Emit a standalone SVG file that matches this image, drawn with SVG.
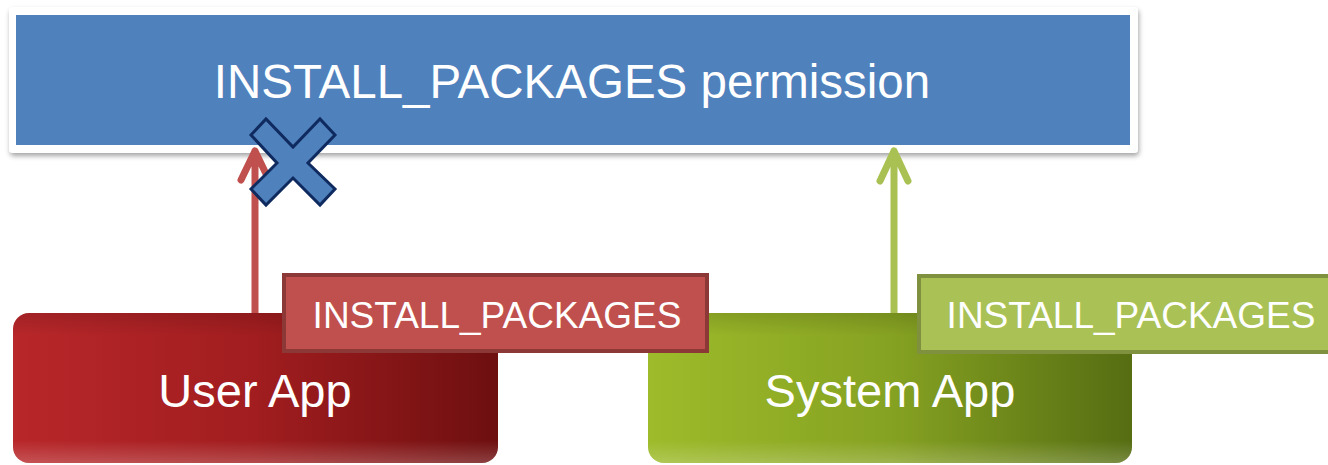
<svg xmlns="http://www.w3.org/2000/svg" width="1328" height="465" viewBox="0 0 1328 465">
<defs>
<style>
.t{font-family:"Liberation Sans",Arial,sans-serif;fill:#fff;text-anchor:middle}
.arr{fill:none;stroke-width:7;stroke-linecap:round;stroke-linejoin:round}
</style>
<filter id="sh" x="-5%" y="-10%" width="110%" height="130%">
<feDropShadow dx="1" dy="3" stdDeviation="2.5" flood-color="#000" flood-opacity="0.35"/>
</filter>
<linearGradient id="gRed" x1="0" y1="0" x2="1" y2="0">
<stop offset="0" stop-color="#b8272a"/>
<stop offset="0.5" stop-color="#a11d1f"/>
<stop offset="1" stop-color="#6e0f10"/>
</linearGradient>
<linearGradient id="gGreen" x1="0" y1="0" x2="1" y2="0">
<stop offset="0" stop-color="#9dbb2a"/>
<stop offset="0.5" stop-color="#86a222"/>
<stop offset="1" stop-color="#566d12"/>
</linearGradient>
<linearGradient id="gShade" x1="0" y1="0" x2="0" y2="1">
<stop offset="0" stop-color="#000" stop-opacity="0.12"/>
<stop offset="0.15" stop-color="#000" stop-opacity="0"/>
<stop offset="0.85" stop-color="#fff" stop-opacity="0"/>
<stop offset="1" stop-color="#fff" stop-opacity="0.2"/>
</linearGradient>
</defs>

<g id="permission">
<rect x="9" y="7" width="1129" height="146" rx="4" fill="#fff" filter="url(#sh)"/>
<rect x="16" y="15" width="1114" height="130" fill="#4f81bd"/>
<text class="t" x="572" y="98" font-size="47.5">INSTALL_PACKAGES permission</text>
</g>

<g id="connectors">
<path class="arr" stroke="#c0504d" d="M255 313 V151 M241 180 L255 151 L269 180"/>
<path class="arr" stroke="#a9c153" d="M894 313 V151 M880 181 L894 151 L908 181"/>
</g>

<g id="deny">
<polygon points="251,135 266,119 293,147 320,119 335,135 308,163 335,189 320,205 293,178 266,205 251,189 277,163" fill="#4f81bd" stroke="#0f2a5f" stroke-width="3" stroke-linejoin="miter"/>
</g>

<g id="user-app">
<rect x="13" y="313" width="485" height="150" rx="16" fill="url(#gRed)"/>
<rect x="13" y="313" width="485" height="150" rx="16" fill="url(#gShade)"/>
<text class="t" x="255" y="407" font-size="47">User App</text>
</g>

<g id="system-app">
<rect x="648" y="313" width="484" height="150" rx="16" fill="url(#gGreen)"/>
<rect x="648" y="313" width="484" height="150" rx="16" fill="url(#gShade)"/>
<text class="t" x="890" y="407" font-size="47">System App</text>
</g>

<g id="user-perm">
<rect x="284" y="275" width="423" height="76" fill="#c0504d" stroke="#8c3836" stroke-width="4"/>
<text class="t" x="497" y="328" font-size="37">INSTALL_PACKAGES</text>
</g>

<g id="system-perm">
<rect x="919" y="276" width="425" height="76" fill="#aac255" stroke="#7f913f" stroke-width="4"/>
<text class="t" x="1131" y="328" font-size="37">INSTALL_PACKAGES</text>
</g>
</svg>
